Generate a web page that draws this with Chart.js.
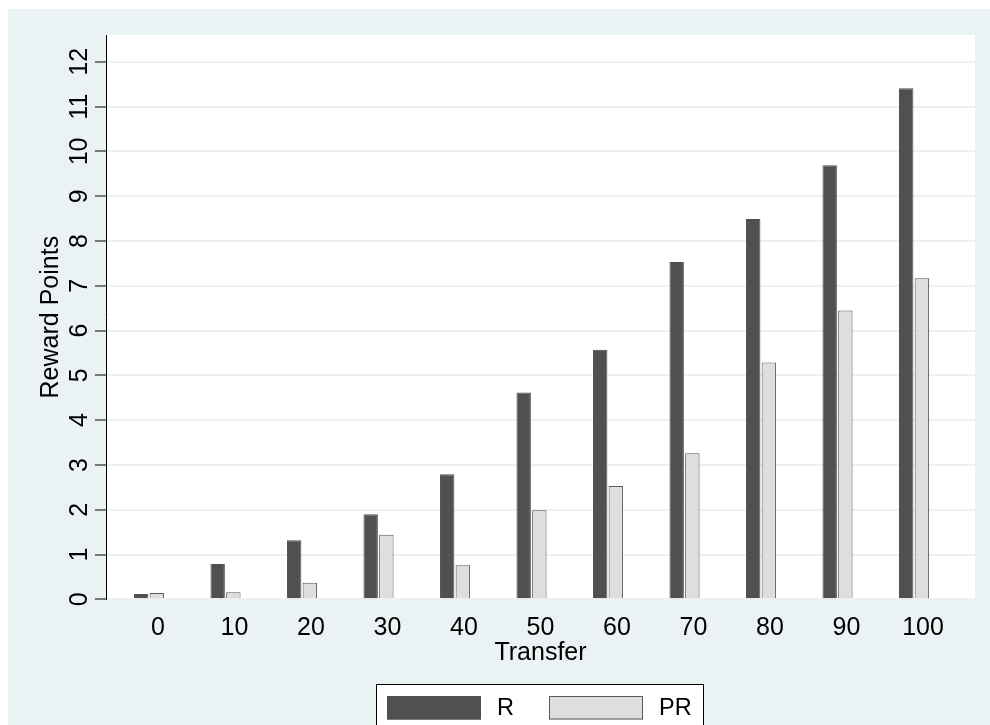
<!DOCTYPE html>
<html>
<head>
<meta charset="utf-8">
<script src="https://cdn.jsdelivr.net/npm/chart.js@4/dist/chart.umd.min.js"></script>
<style>
  html, body { margin: 0; padding: 0; background: #ffffff; }
  #wrap { width: 990px; height: 725px; }
</style>
</head>
<body>
<div id="wrap"><canvas id="grafico" width="990" height="725"></canvas></div>
<script>
// dados
let transferencias = [0, 10, 20, 30, 40, 50, 60, 70, 80, 90, 100];
let valoresR = [0.12, 0.79, 1.32, 1.90, 2.79, 4.62, 5.57, 7.53, 8.49, 9.69, 11.41];
let valoresPR = [0.14, 0.16, 0.37, 1.44, 0.76, 1.99, 2.53, 3.26, 5.29, 6.45, 7.17];
let ticksY = [0, 1, 2, 3, 4, 5, 6, 7, 8, 9, 10, 11, 12];
let ticksX = [0, 10, 20, 30, 40, 50, 60, 70, 80, 90, 100];

const fonte = '"Liberation Sans", Arial, sans-serif';
const fundo = '#eaf2f3';

// fundo estilo Stata + caixa branca da area do grafico
const pluginFundo = {
  id: 'fundo',
  beforeDraw(chart) {
    const ctx = chart.ctx;
    const a = chart.chartArea;
    ctx.save();
    ctx.fillStyle = fundo;
    ctx.fillRect(8, 9, chart.width - 8, chart.height - 9);
    ctx.fillStyle = '#ffffff';
    ctx.fillRect(a.left, a.top, a.right - a.left, a.bottom - a.top);
    ctx.restore();
  }
};

// legenda com moldura (cortada embaixo como no original)
const pluginLegenda = {
  id: 'legendaStata',
  afterDraw(chart) {
    const ctx = chart.ctx;
    const ds = chart.data.datasets;
    const x0 = 376, y0 = 684.5, w = 327, h = 60;
    ctx.save();
    ctx.fillStyle = '#ffffff';
    ctx.fillRect(x0, y0, w, h);
    ctx.strokeStyle = '#000000';
    ctx.lineWidth = 1;
    ctx.strokeRect(x0 + 0.5, y0, w, h);
    ctx.font = '23.5px ' + fonte;
    ctx.textBaseline = 'middle';
    ctx.textAlign = 'left';
    const posX = [387, 549];
    ds.forEach((d, i) => {
      const sx = posX[i];
      ctx.fillStyle = d.backgroundColor;
      ctx.fillRect(sx, 696, 94, 23.5);
      ctx.strokeStyle = d.borderColor;
      ctx.lineWidth = 1;
      ctx.strokeRect(sx + 0.5, 696.5, 93, 22.5);
      ctx.fillStyle = '#000000';
      ctx.fillText(d.label, sx + 110, 709);
    });
    ctx.restore();
  }
};

let ctx = document.getElementById('grafico').getContext('2d');

new Chart(ctx, {
  type: 'bar',
  data: {
    datasets: [
      {
        label: 'R',
        data: transferencias.map((t, i) => ({ x: t, y: valoresR[i] })),
        backgroundColor: '#505050',
        borderColor: '#505050',
        borderWidth: 1
      },
      {
        label: 'PR',
        data: transferencias.map((t, i) => ({ x: t, y: valoresPR[i] })),
        backgroundColor: '#dedede',
        borderColor: '#5a5a5a',
        borderWidth: 1
      }
    ]
  },
  options: {
    responsive: false,
    animation: false,
    categoryPercentage: 0.41,
    barPercentage: 0.92,
    layout: { padding: { left: 36, right: 15, top: 35, bottom: 57 } },
    plugins: {
      legend: { display: false },
      tooltip: { enabled: false }
    },
    scales: {
      x: {
        type: 'linear',
        offset: false,
        min: -5.62,
        max: 107.97,
        afterBuildTicks(axis) { axis.ticks = ticksX.map(v => ({ value: v })); },
        afterFit(axis) { axis.height = 68.7; },
        grid: { display: false, drawTicks: false },
        border: { display: false },
        ticks: {
          color: '#000',
          font: { family: fonte, size: 25 },
          padding: 14,
          labelOffset: 9,
          maxRotation: 0,
          autoSkip: false
        },
        title: {
          display: true,
          text: 'Transfer',
          color: '#000',
          font: { family: fonte, size: 25 },
          padding: 0
        }
      },
      y: {
        min: 0,
        max: 12.6,
        afterBuildTicks(axis) { axis.ticks = ticksY.map(v => ({ value: v })); },
        afterFit(axis) { axis.width = 70; },
        grid: {
          color: fundo,
          lineWidth: 2,
          tickColor: '#000',
          tickWidth: 1,
          tickLength: 11
        },
        border: { display: true, color: '#000', width: 1 },
        ticks: {
          color: '#000',
          font: { family: fonte, size: 25 },
          minRotation: 90,
          maxRotation: 90,
          crossAlign: 'center',
          padding: 1,
          autoSkip: false
        },
        title: {
          display: true,
          text: 'Reward Points',
          color: '#000',
          font: { family: fonte, size: 25 },
          padding: 0
        }
      }
    }
  },
  plugins: [pluginFundo, pluginLegenda]
});
</script>
</body>
</html>
